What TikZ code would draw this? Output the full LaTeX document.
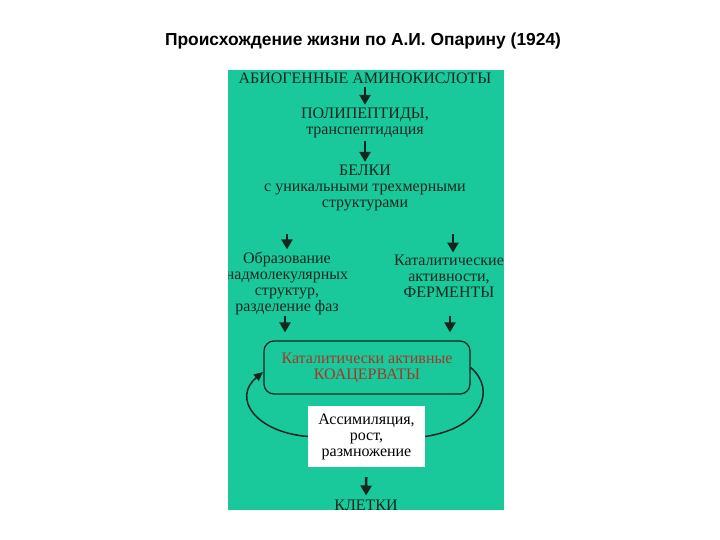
\documentclass[tikz,border=0pt]{standalone}
\usepackage{fontspec}
\setmainfont{Liberation Serif}
\newfontfamily\titlefont{Liberation Sans}
\usetikzlibrary{arrows.meta}
\definecolor{panelgreen}{RGB}{26,201,155}
\definecolor{inkdark}{RGB}{22,38,30}
\definecolor{inkred}{RGB}{165,55,40}
\tikzset{
  txt/.style={text=inkdark, align=center, font=\fontsize{16}{16}\selectfont, inner sep=1pt},
  arr/.style={draw=inkdark, line width=2.6pt, -{Triangle[width=11pt,length=10pt]}},
  loop/.style={draw=inkdark, line width=1.5pt},
}

\begin{document}
\begin{tikzpicture}[x=1pt,y=-1pt]
\useasboundingbox (0,0) rectangle (720,540);
\node[font=\titlefont\bfseries\fontsize{17.4}{20}\selectfont] (title) at (363,41) {Происхождение жизни по А.И. Опарину (1924)};

\fill[panelgreen] (228,70) rectangle (504,510);
\begin{scope}
\clip (228,70) rectangle (504,510);

% main chain
\node[txt] (abio) at (365,78) {АБИОГЕННЫЕ АМИНОКИСЛОТЫ};
\node[txt] (poly) at (365,123) {ПОЛИПЕПТИДЫ,\\транспептидация};
\node[txt] (belki) at (365,188) {БЕЛКИ\\с уникальными трехмерными\\структурами};

% two branches
\node[txt] (obr) at (287,283) {Образование\\надмолекулярных\\структур,\\разделение фаз};
\node[txt] (kat) at (449,276) {Каталитические\\активности,\\ФЕРМЕНТЫ};
\coordinate (bl) at (287,234);
\coordinate (br) at (453,234);
\coordinate (ol) at (285,316);
\coordinate (kr) at (450,316);

% coacervates and cycle
\node[draw=inkdark, line width=1.3pt, rounded corners=10pt, minimum width=206pt,
  minimum height=53pt, align=center, text=inkred,
  font=\fontsize{16}{16}\selectfont] (koac) at (367,367.5) {Каталитически активные\\КОАЦЕРВАТЫ};
\node[fill=white, minimum width=117pt, minimum height=61pt, align=center,
  font=\fontsize{16}{16}\selectfont] (assim) at (366.5,436.5) {Ассимиляция,\\рост,\\размножение};
\node[txt] (klet) at (366,505) {КЛЕТКИ};

\draw[arr, shorten <=2pt, shorten >=2pt] (abio) -- (poly);
\draw[arr, shorten <=2pt, shorten >=2pt] (poly) -- (belki);
\draw[arr, shorten >=1pt] (bl) -- (bl |- obr.north);
\draw[arr, shorten >=1pt] (br) -- (br |- kat.north);
\draw[arr, shorten >=8pt] (ol) -- (ol |- koac.north);
\draw[arr, shorten >=8pt] (kr) -- (kr |- koac.north);
\draw[loop, -{Triangle[width=8pt,length=9pt]}] (assim.west) .. controls (255,432) and (232,398) .. (263,372);
\draw[loop] (koac.east) .. controls (497,390) and (482,428) .. (assim.east);
\draw[arr, shorten <=10pt, shorten >=3pt] (assim) -- (klet);
\end{scope}
\end{tikzpicture}
\end{document}
